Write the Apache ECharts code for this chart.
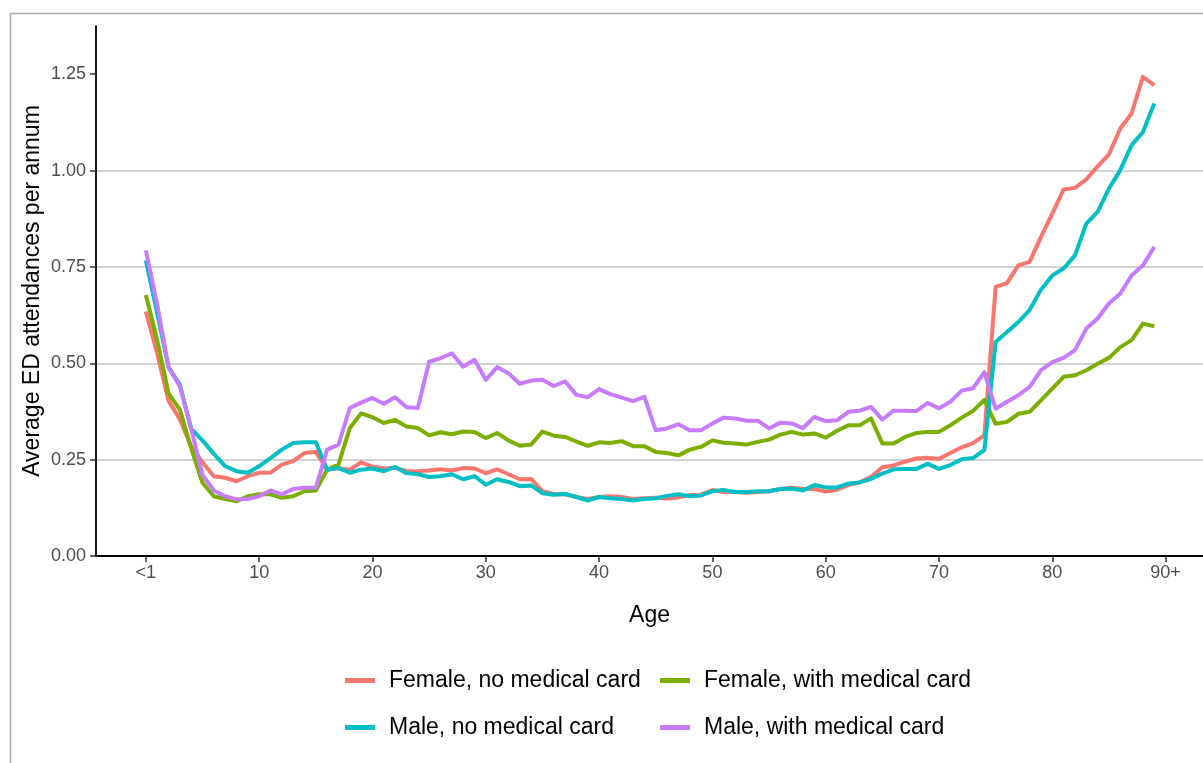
<!DOCTYPE html>
<html><head><meta charset="utf-8">
<script src="https://cdn.jsdelivr.net/npm/echarts@6/dist/echarts.min.js"></script>
<style>html,body{margin:0;padding:0;background:#fff}#c{width:1203px;height:763px}</style>
</head><body><div id="c"></div>
<script>
const ages = [0,1,2,3,4,5,6,7,8,9,10,11,12,13,14,15,16,17,18,19,20,21,22,23,24,25,26,27,28,29,30,31,32,33,34,35,36,37,38,39,40,41,42,43,44,45,46,47,48,49,50,51,52,53,54,55,56,57,58,59,60,61,62,63,64,65,66,67,68,69,70,71,72,73,74,75,76,77,78,79,80,81,82,83,84,85,86,87,88,89];

const femaleNoCard = [0.634,0.526,0.403,0.355,0.284,0.243,0.207,0.203,0.194,0.207,0.216,0.216,0.237,0.246,0.267,0.270,0.224,0.228,0.224,0.243,0.232,0.227,0.229,0.220,0.220,0.222,0.225,0.222,0.228,0.227,0.215,0.225,0.212,0.199,0.200,0.168,0.161,0.160,0.153,0.148,0.153,0.155,0.153,0.148,0.150,0.151,0.149,0.152,0.158,0.159,0.171,0.166,0.166,0.164,0.166,0.168,0.174,0.177,0.174,0.174,0.167,0.172,0.184,0.191,0.205,0.230,0.235,0.245,0.253,0.255,0.252,0.267,0.282,0.293,0.313,0.698,0.708,0.754,0.763,0.828,0.888,0.951,0.955,0.977,1.011,1.042,1.109,1.148,1.243,1.221];

const femaleWithCard = [0.677,0.560,0.422,0.380,0.280,0.190,0.155,0.148,0.142,0.155,0.160,0.160,0.151,0.155,0.168,0.170,0.224,0.237,0.332,0.370,0.360,0.345,0.353,0.336,0.332,0.313,0.321,0.316,0.323,0.322,0.306,0.319,0.300,0.286,0.289,0.323,0.312,0.309,0.297,0.286,0.295,0.293,0.298,0.285,0.285,0.270,0.267,0.261,0.276,0.283,0.300,0.294,0.292,0.289,0.296,0.302,0.315,0.322,0.315,0.318,0.307,0.325,0.339,0.339,0.357,0.292,0.292,0.309,0.319,0.322,0.322,0.339,0.359,0.376,0.405,0.343,0.348,0.369,0.374,0.404,0.434,0.465,0.469,0.482,0.499,0.514,0.542,0.560,0.603,0.596];

const maleNoCard = [0.767,0.630,0.490,0.445,0.330,0.300,0.265,0.233,0.220,0.216,0.233,0.254,0.276,0.293,0.295,0.295,0.224,0.228,0.216,0.224,0.227,0.220,0.231,0.215,0.212,0.205,0.207,0.212,0.199,0.207,0.185,0.199,0.192,0.181,0.183,0.163,0.159,0.161,0.153,0.144,0.153,0.150,0.148,0.144,0.148,0.150,0.156,0.160,0.155,0.157,0.168,0.171,0.166,0.166,0.168,0.168,0.174,0.175,0.170,0.184,0.178,0.178,0.188,0.191,0.200,0.214,0.225,0.226,0.226,0.239,0.226,0.236,0.251,0.254,0.275,0.555,0.581,0.607,0.638,0.691,0.728,0.746,0.780,0.862,0.893,0.953,1.001,1.066,1.100,1.174];

const maleWithCard = [0.793,0.653,0.490,0.440,0.330,0.210,0.170,0.155,0.147,0.148,0.155,0.170,0.160,0.174,0.177,0.177,0.276,0.289,0.384,0.398,0.410,0.395,0.412,0.386,0.384,0.504,0.513,0.526,0.491,0.509,0.457,0.490,0.474,0.447,0.455,0.457,0.441,0.453,0.418,0.412,0.433,0.420,0.411,0.402,0.413,0.326,0.331,0.342,0.326,0.326,0.344,0.359,0.357,0.351,0.351,0.331,0.346,0.344,0.332,0.361,0.350,0.352,0.374,0.377,0.387,0.354,0.377,0.377,0.376,0.397,0.383,0.400,0.429,0.435,0.477,0.382,0.400,0.417,0.439,0.482,0.503,0.514,0.534,0.590,0.616,0.655,0.681,0.728,0.754,0.802];

const xTickValues = [0,10,20,30,40,50,60,70,80,90];
const xTickLabels = ['<1','10','20','30','40','50','60','70','80','90+'];
const yTickValues = [0,0.25,0.5,0.75,1,1.25];
const seriesNames = ['Female, no medical card','Female, with medical card','Male, no medical card','Male, with medical card'];
const seriesColors = ['#F8766D','#7CAE00','#00BFC4','#C77CFF'];
const seriesValues = [femaleNoCard, femaleWithCard, maleNoCard, maleWithCard];

const FONT = '"Liberation Sans", Arial, sans-serif';
const chart = echarts.init(document.getElementById('c'), null, {renderer:'canvas'});

const series = seriesNames.map((n,i)=>({
  name:n, type:'line', color:seriesColors[i],
  data: ages.map((a,j)=>[a, seriesValues[i][j]]),
  showSymbol:false, symbol:'none', smooth:false,
  lineStyle:{width:4, color:seriesColors[i], join:'round', cap:'butt'},
  itemStyle:{color:seriesColors[i]},
  z: 2+i, animation:false
}));

const legendCommon = {
  orient:'vertical', icon:'rect', itemWidth:30, itemHeight:5, itemGap:24,
  textStyle:{fontSize:23, color:'#000', fontFamily:FONT, padding:[0,0,0,9]},
  selectedMode:false
};

chart.setOption({
  animation:false,
  backgroundColor:'#fff',
  textStyle:{fontFamily:FONT},
  graphic:[{type:'rect', shape:{x:10.5, y:13.5, width:1210, height:770}, style:{fill:null, stroke:'#a8a8a8', lineWidth:1.5}, silent:true, z:-1}],
  grid:{left:96, top:26, right:0, bottom:207, containLabel:false},
  xAxis:{
    type:'value', min:-4.4, max:93.3,
    name:'Age', nameLocation:'middle', nameGap:48, nameMoveOverlap:false,
    nameTextStyle:{fontSize:23, color:'#000', fontFamily:FONT},
    axisLine:{show:true, onZero:false, lineStyle:{color:'#000', width:1.8}},
    axisTick:{show:true, length:6, customValues:xTickValues, lineStyle:{color:'#333', width:1.5}},
    axisLabel:{customValues:xTickValues, margin:8, fontSize:18, color:'#4D4D4D', fontFamily:FONT,
      formatter:(v)=>{const k=xTickValues.indexOf(Math.round(v)); return k>=0?xTickLabels[k]:'';}},
    splitLine:{show:false}
  },
  yAxis:{
    type:'value', min:0, max:1.375, interval:0.25,
    name:'Average ED attendances per annum', nameLocation:'middle', nameGap:52, nameMoveOverlap:false,
    nameTextStyle:{fontSize:23, color:'#000', fontFamily:FONT},
    axisLine:{show:true, onZero:false, lineStyle:{color:'#000', width:1.8}},
    axisTick:{show:true, length:6, customValues:yTickValues, lineStyle:{color:'#333', width:1.5}},
    axisLabel:{customValues:yTickValues, margin:10, fontSize:18, color:'#4D4D4D', fontFamily:FONT,
      formatter:(v)=> v>1.3 ? '' : v.toFixed(2)},
    splitLine:{show:true, showMinLine:false, showMaxLine:false, lineStyle:{color:'#c4c4c4', width:1.5}}
  },
  legend:[
    Object.assign({data:[seriesNames[0], seriesNames[2]], left:340, top:664}, legendCommon),
    Object.assign({data:[seriesNames[1], seriesNames[3]], left:655, top:664}, legendCommon)
  ],
  series: series
});
</script></body></html>
